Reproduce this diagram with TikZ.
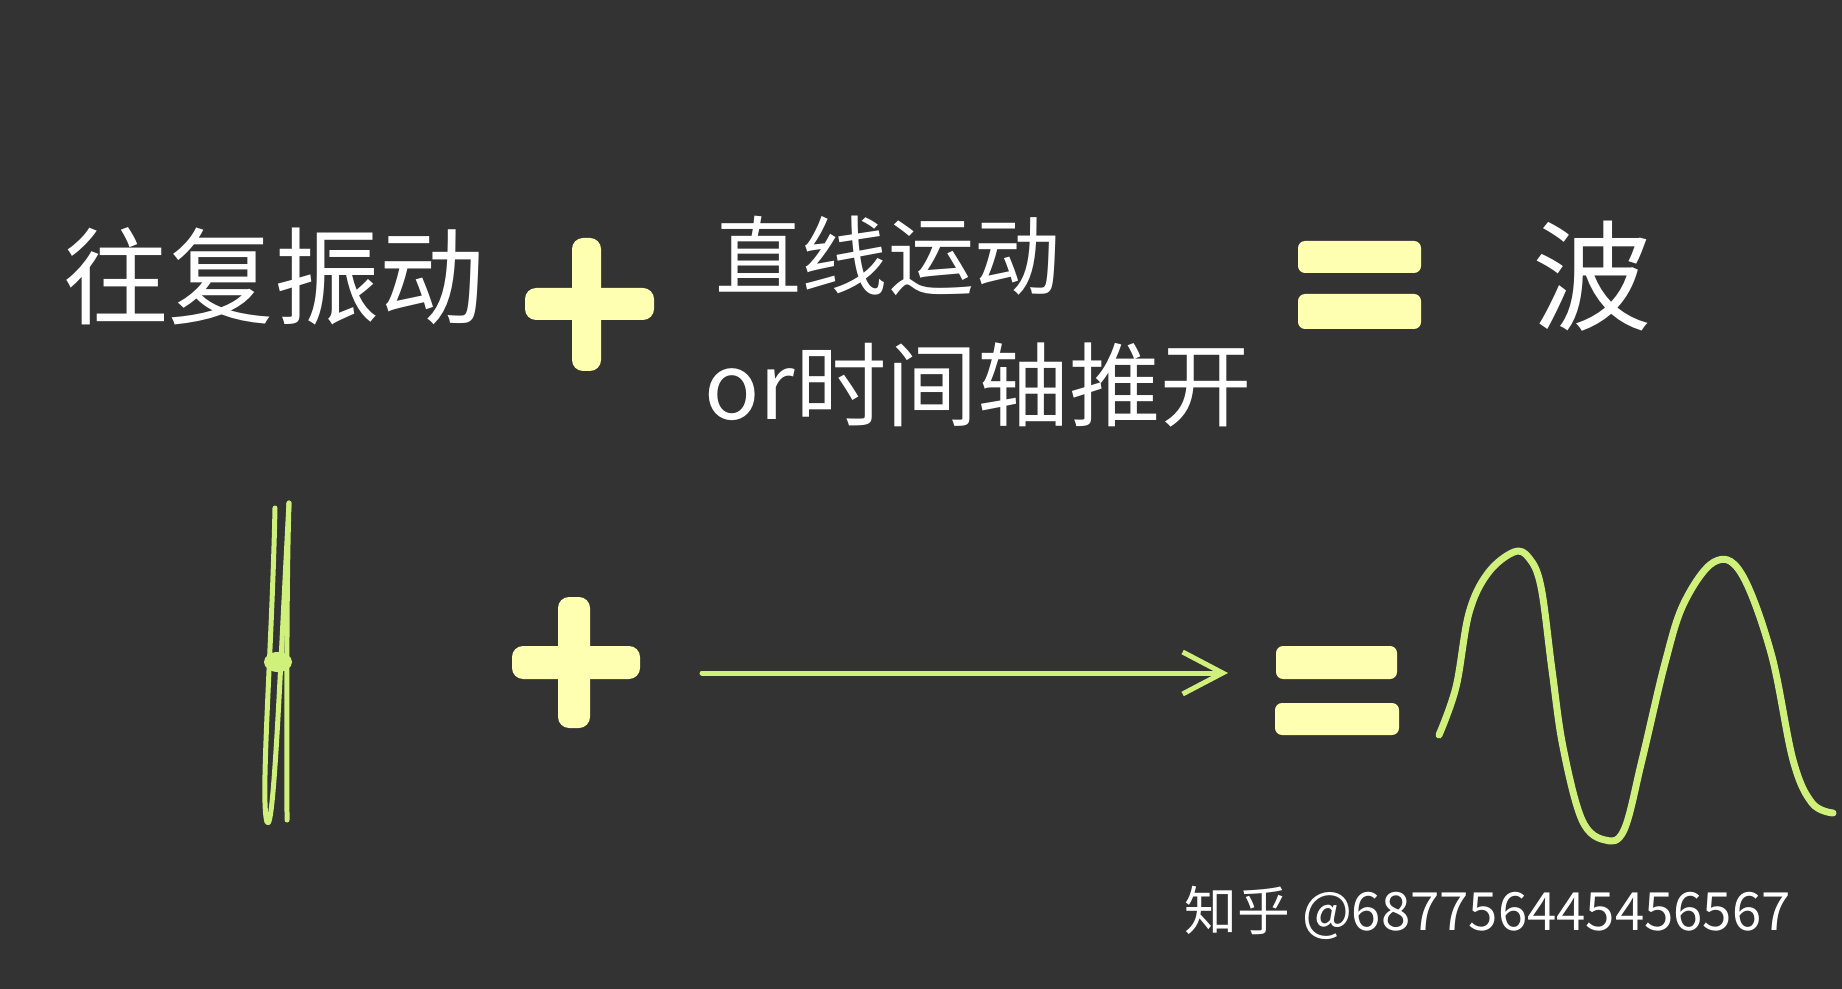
\documentclass[tikz,border=0pt]{standalone}
\usepackage{fontspec}
\setmainfont{Noto Sans CJK SC}
\usetikzlibrary{arrows.meta}
\definecolor{board}{RGB}{51,51,51}
\definecolor{chalk}{RGB}{255,255,178}
\definecolor{lime}{RGB}{207,240,122}

\begin{document}
\begin{tikzpicture}[x=0.02cm, y=-0.02cm,
        hand/.style={text=white, inner sep=0pt},
        bar/.style={fill=chalk, rounded corners=0.22cm},
        flat/.style={fill=chalk, rounded corners=0.14cm},
        wave/.style={draw=lime, line width=0.14cm, line cap=round, line join=round}]
        % board
        \fill[board] (0,0) rectangle (1842,989);
        \useasboundingbox (0,0) rectangle (1842,989);

        % top row: words
        \node[hand, font=\fontsize{60}{60}\selectfont] (osc) at (274,276) {往复振动};
        \node[hand, font=\fontsize{49}{49}\selectfont] (line) at (888,256) {直线运动};
        \node[hand, font=\fontsize{52}{52}\selectfont] (time) at (978,385) {or时间轴推开};
        \node[hand, font=\fontsize{68}{68}\selectfont] (bo) at (1592,276) {波};

        % top plus and equals
        \fill[bar] (572,238) rectangle (601,371);
        \fill[bar] (525,288) rectangle (654,320);
        \fill[flat] (1298,241) rectangle (1421,273);
        \fill[flat] (1298,294) rectangle (1421,329);

        % bottom row: vibration
        \draw[wave, line width=0.1cm] (275,508) .. controls (272,650) and (260,800) .. (267,822)
            .. controls (274,838) and (281,650) .. (289,503);
        \draw[wave, line width=0.1cm] (289,503) .. controls (286,600) and (287,750) .. (287,820);
        \fill[lime] (278,662) ellipse (14 and 10);

        % bottom plus
        \fill[bar] (558,597) rectangle (590,728);
        \fill[bar] (512,646) rectangle (640,679);

        % straight motion
        \coordinate (tail) at (702,673);
        \coordinate (head) at (1228,673);
        \draw[wave, line width=0.1cm, -{Straight Barb[length=0.8cm, width=0.84cm, line width=0.1cm]}] (tail) -- (head);

        % bottom equals
        \fill[flat] (1276,646) rectangle (1397,679);
        \fill[flat] (1275,703) rectangle (1399,735);

        % resulting wave
        \draw[wave] plot[smooth, tension=0.6] coordinates {
            (1439,735) (1456,687) (1469,613) (1488,573) (1514,552) (1529,558)
            (1541,587) (1552,670) (1563,747) (1582,820) (1605,840) (1624,830)
            (1642,760) (1665,663) (1684,603) (1714,562) (1741,573) (1771,653)
            (1793,760) (1812,803) (1833,813)};

        % watermark
        \node[hand, anchor=east, font=\fontsize{30}{30}\selectfont] (mark) at (1791,913) {知乎 @687756445456567};
    \end{tikzpicture}
\end{document}
